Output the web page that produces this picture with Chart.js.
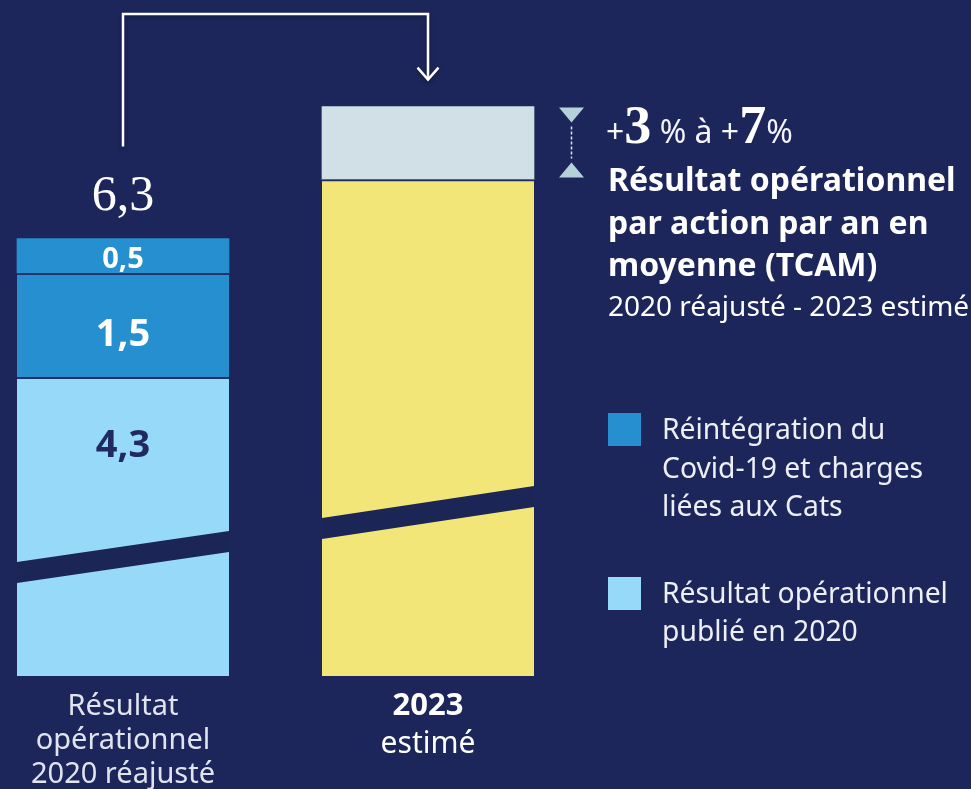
<!DOCTYPE html>
<html lang="fr">
<head>
<meta charset="utf-8">
<title>Résultat opérationnel par action</title>
<script src="https://cdn.jsdelivr.net/npm/chart.js@4.4.1/dist/chart.umd.min.js"></script>
<style>
  html, body { margin: 0; padding: 0; }
  body {
    position: relative;
    width: 971px; height: 789px; overflow: hidden;
    background: #1d265a;
    font-family: "Noto Sans", sans-serif;
    color: #fff;
  }
  #chart { position: absolute; left: 0; top: 0; }
  .abs { position: absolute; white-space: nowrap; }
  #growth { left: 606px; top: 100px; font-size: 32px; line-height: 50px; color: #f3f5fa; }
  #growth b { font-family: "Liberation Serif", serif; font-size: 54px; font-weight: 700; color: #fff; }
  #headline { left: 608px; top: 158px; font-size: 32px; line-height: 42.5px; font-weight: 700; }
  #period { left: 608px; top: 289px; font-size: 28px; line-height: 32px; }
  #legend { left: 608px; top: 409px; }
  .item { position: relative; padding-left: 54px; font-size: 28.3px; line-height: 38.5px; color: #eceff6; }
  .item + .item { margin-top: 48px; }
  .swatch { position: absolute; left: 0; top: 4px; width: 33px; height: 33px; }
</style>
</head>
<body>
<canvas id="chart" width="971" height="789"></canvas>
<div id="growth" class="abs"></div>
<div id="headline" class="abs">Résultat opérationnel<br>par action par an en<br>moyenne (TCAM)</div>
<div id="period" class="abs">2020 réajusté - 2023 estimé</div>
<div id="legend" class="abs"></div>
<script>
  /* ── Data ─────────────────────────────────────────────────────────────── */
  const CATEGORIES      = [['Résultat', 'opérationnel', '2020 réajusté'], ['2023', 'estimé']];
  const PUBLISHED_2020  = [4.3, null];   // résultat opérationnel publié en 2020
  const REINTEGRATION_1 = [1.5, null];   // réintégration (1re tranche)
  const REINTEGRATION_2 = [0.5, null];   // réintégration (2e tranche)
  const ESTIMATE_2023   = [null, 7.15];  // bas de fourchette 2023
  const RANGE_2023      = [null, 1.05];  // écart haut - bas de fourchette
  const TOTAL_2020      = 6.3;
  const GROWTH_RANGE    = [3, 7];        // TCAM en %
  const Y_RANGE         = [0, 9];

  const LEGEND_LINES = [
    ['Réintégration du', 'Covid-19 et charges', 'liées aux Cats'],
    ['Résultat opérationnel', 'publié en 2020'],
  ];

  /* ── Styles ───────────────────────────────────────────────────────────── */
  const LIGHT_BLUE = '#97d9f8';
  const MID_BLUE   = '#268fcf';
  const YELLOW     = '#f3e679';
  const PALE_GREY  = '#d0e0e6';
  const SEPARATOR  = '#26336a';
  const SANS       = '"Noto Sans"';

  const fmt = v => v.toLocaleString('fr-FR');

  /* ── Right-hand texts ─────────────────────────────────────────────────── */
  document.getElementById('growth').innerHTML =
    `+<b>${GROWTH_RANGE[0]}</b> % à +<b>${GROWTH_RANGE[1]}</b>%`;

  const legendColors = [MID_BLUE, LIGHT_BLUE];
  document.getElementById('legend').innerHTML = LEGEND_LINES.map((lines, i) =>
    `<div class="item"><span class="swatch" style="background:${legendColors[i]}"></span>${lines.join('<br>')}</div>`
  ).join('');

  /* ── Decorations: shadow, axis breaks, labels, arrow, range marker ────── */
  const BREAKS = [            // diagonal break stripe, px above the bar base
    { ds: 0, i: 0, lo: 93,  hi: 124 },
    { ds: 3, i: 1, lo: 137, hi: 169 },
  ];
  const STRIPE = 21;

  const decor = {
    id: 'decor',
    beforeDatasetDraw(chart, args) {
      if (args.index !== 0 && args.index !== 3) return;
      const ctx = chart.ctx;
      ctx.save();
      ctx.shadowColor = 'rgba(4, 8, 30, 0.6)';
      ctx.shadowBlur = 16;
      ctx.shadowOffsetY = 8;
    },
    afterDatasetDraw(chart, args) {
      if (args.index === 0 || args.index === 3) chart.ctx.restore();
    },
    afterDatasetsDraw(chart) {
      const ctx = chart.ctx;
      const bar = (ds, i) => chart.getDatasetMeta(ds).data[i];

      // axis breaks
      ctx.save();
      ctx.fillStyle = '#1b2556';
      BREAKS.forEach(b => {
        const el = bar(b.ds, b.i);
        const x0 = el.x - el.width / 2, x1 = el.x + el.width / 2;
        ctx.beginPath();
        ctx.moveTo(x0, el.base - b.lo);
        ctx.lineTo(x1, el.base - b.hi);
        ctx.lineTo(x1, el.base - b.hi - STRIPE);
        ctx.lineTo(x0, el.base - b.lo - STRIPE);
        ctx.closePath();
        ctx.fill();
      });
      ctx.restore();

      // segment values
      ctx.save();
      ctx.textAlign = 'center';
      ctx.textBaseline = 'alphabetic';
      const seg = [
        { ds: 2, font: `bold 29px ${SANS}`, color: '#ffffff', at: el => (el.y + el.base) / 2 + 12 },
        { ds: 1, font: `bold 38px ${SANS}`, color: '#ffffff', at: el => (el.y + el.base) / 2 + 21 },
        { ds: 0, font: `bold 38px ${SANS}`, color: '#1f2a60', at: el => el.y + 80 },
      ];
      seg.forEach(s => {
        const el = bar(s.ds, 0);
        ctx.font = s.font;
        ctx.fillStyle = s.color;
        ctx.fillText(fmt(chart.data.datasets[s.ds].data[0]), el.x, s.at(el));
      });

      // total above the 2020 bar
      const top2020 = bar(2, 0);
      ctx.font = '50px "Liberation Serif"';
      ctx.fillStyle = '#ffffff';
      ctx.fillText(fmt(TOTAL_2020), top2020.x, top2020.y - 29);

      // category labels under the bars
      const xs = chart.scales.x, bottom = chart.chartArea.bottom;
      ctx.font = `29px ${SANS}`;
      ctx.fillStyle = '#dfe4ef';
      CATEGORIES[0].forEach((t, k) => ctx.fillText(t, xs.getPixelForValue(0), bottom + 39 + k * 34));
      ctx.fillStyle = '#ffffff';
      ctx.font = `bold 31px ${SANS}`;
      ctx.fillText(CATEGORIES[1][0], xs.getPixelForValue(1), bottom + 39);
      ctx.font = `30px ${SANS}`;
      ctx.fillText(CATEGORIES[1][1], xs.getPixelForValue(1), bottom + 77);
      ctx.restore();

      // elbow arrow from 2020 to 2023
      const top2023 = bar(4, 1);
      ctx.save();
      ctx.strokeStyle = '#ffffff';
      ctx.lineWidth = 2.5;
      ctx.shadowColor = 'rgba(0, 0, 0, 0.35)';
      ctx.shadowBlur = 4;
      ctx.shadowOffsetY = 2;
      ctx.beginPath();
      ctx.moveTo(top2020.x, top2020.y - 92);
      ctx.lineTo(top2020.x, 14);
      ctx.lineTo(top2023.x, 14);
      ctx.lineTo(top2023.x, top2023.y - 27);
      ctx.stroke();
      ctx.beginPath();
      ctx.moveTo(top2023.x - 10.5, top2023.y - 39);
      ctx.lineTo(top2023.x, top2023.y - 27);
      ctx.lineTo(top2023.x + 10.5, top2023.y - 39);
      ctx.stroke();
      ctx.restore();

      // range marker next to the 2023 bar
      const mx = top2023.x + top2023.width / 2 + 37.5;
      const yHi = top2023.y, yLo = top2023.base;
      ctx.save();
      ctx.fillStyle = '#b5d2da';
      ctx.beginPath();
      ctx.moveTo(mx - 12.5, yHi + 1); ctx.lineTo(mx + 12.5, yHi + 1); ctx.lineTo(mx, yHi + 16);
      ctx.closePath(); ctx.fill();
      ctx.beginPath();
      ctx.moveTo(mx - 12.5, yLo - 2); ctx.lineTo(mx + 12.5, yLo - 2); ctx.lineTo(mx, yLo - 17);
      ctx.closePath(); ctx.fill();
      ctx.strokeStyle = '#dbe6ec';
      ctx.lineWidth = 1.5;
      ctx.setLineDash([3, 2]);
      ctx.beginPath();
      ctx.moveTo(mx, yHi + 20);
      ctx.lineTo(mx, yLo - 21);
      ctx.stroke();
      ctx.restore();
    },
  };

  /* ── Chart ────────────────────────────────────────────────────────────── */
  const topBorder = { top: 2, right: 0, bottom: 0, left: 0 };

  new Chart(document.getElementById('chart').getContext('2d'), {
    type: 'bar',
    data: {
      labels: CATEGORIES,
      datasets: [
        { label: LEGEND_LINES[1].join(' '), data: PUBLISHED_2020,  backgroundColor: LIGHT_BLUE, borderColor: SEPARATOR, borderWidth: topBorder },
        { label: LEGEND_LINES[0].join(' '), data: REINTEGRATION_1, backgroundColor: MID_BLUE,   borderColor: SEPARATOR, borderWidth: topBorder },
        { label: LEGEND_LINES[0].join(' '), data: REINTEGRATION_2, backgroundColor: MID_BLUE,   borderWidth: 0 },
        { label: '2023 estimé (bas)',       data: ESTIMATE_2023,   backgroundColor: YELLOW,     borderColor: SEPARATOR, borderWidth: topBorder },
        { label: '2023 estimé (haut)',      data: RANGE_2023,      backgroundColor: PALE_GREY,  borderWidth: 0 },
      ],
    },
    options: {
      responsive: false,
      animation: false,
      events: [],
      layout: { padding: { left: 123, right: 543, top: 51, bottom: 113 } },
      datasets: { bar: { barThickness: 212, borderSkipped: false, clip: false } },
      plugins: { legend: { display: false }, tooltip: { enabled: false } },
      scales: {
        x: { stacked: true, offset: false, display: false },
        y: { stacked: true, min: Y_RANGE[0], max: Y_RANGE[1], display: false },
      },
    },
    plugins: [decor],
  });
</script>
</body>
</html>
